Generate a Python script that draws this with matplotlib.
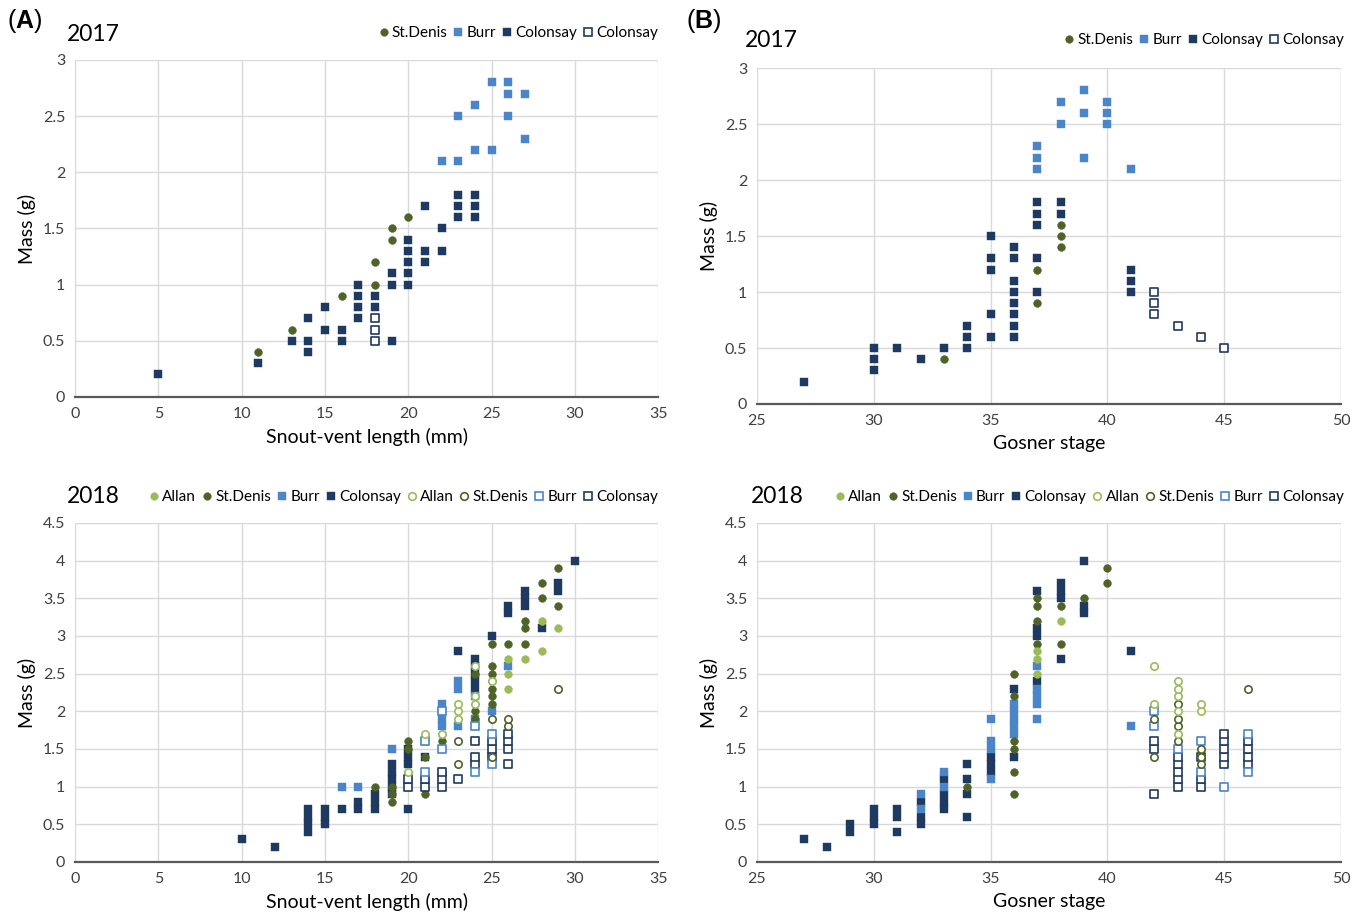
import matplotlib
matplotlib.use("Agg")
import matplotlib.pyplot as plt
from matplotlib.lines import Line2D
from matplotlib.ticker import FuncFormatter

plt.rcParams['font.family'] = ['Lato', 'DejaVu Sans']
plt.rcParams['mathtext.fontset'] = 'custom'
plt.rcParams['mathtext.bf'] = 'Liberation Sans:bold'
plt.rcParams['mathtext.rm'] = 'Liberation Sans'

# colours
c_allan = '#9BBB59'
c_stdenis = '#4F6228'
c_burr = '#4A85C9'
c_col = '#1F3A60'

# ---------------- (A) 2017 : mass vs snout-vent length ----------------
a17_stdenis_x = [11, 13, 16, 18, 18, 19, 19, 20]
a17_stdenis_y = [0.4, 0.6, 0.9, 1.0, 1.2, 1.4, 1.5, 1.6]
a17_burr_x = [22, 23, 23, 24, 24, 25, 25, 26, 26, 26, 27, 27]
a17_burr_y = [2.1, 2.1, 2.5, 2.2, 2.6, 2.2, 2.8, 2.5, 2.7, 2.8, 2.3, 2.7]
a17_col_x = [5, 11, 13, 14, 14, 14, 15, 15, 16, 16, 17, 17, 17, 17, 18, 18, 19, 19, 19,
             20, 20, 20, 20, 20, 21, 21, 21, 22, 22, 23, 23, 23, 24, 24, 24]
a17_col_y = [0.2, 0.3, 0.5, 0.4, 0.5, 0.7, 0.6, 0.8, 0.5, 0.6, 0.7, 0.8, 0.9, 1.0, 0.8, 0.9, 0.5, 1.0, 1.1,
             1.0, 1.1, 1.2, 1.3, 1.4, 1.2, 1.3, 1.7, 1.3, 1.5, 1.6, 1.7, 1.8, 1.6, 1.7, 1.8]
a17_col_o_x = [18, 18, 18]
a17_col_o_y = [0.5, 0.6, 0.7]

# ---------------- (B) 2017 : mass vs Gosner stage ----------------
b17_stdenis_x = [33, 37, 37, 38, 38, 38]
b17_stdenis_y = [0.4, 0.9, 1.2, 1.4, 1.5, 1.6]
b17_burr_x = [37, 37, 37, 38, 38, 39, 39, 39, 40, 40, 40, 41]
b17_burr_y = [2.1, 2.2, 2.3, 2.5, 2.7, 2.2, 2.6, 2.8, 2.5, 2.6, 2.7, 2.1]
b17_col_x = [27, 30, 30, 30, 31, 32, 33, 34, 34, 34, 35, 35, 35, 35, 35,
             36, 36, 36, 36, 36, 36, 36, 36, 37, 37, 37, 37, 37, 38, 38, 41, 41, 41]
b17_col_y = [0.2, 0.3, 0.4, 0.5, 0.5, 0.4, 0.5, 0.5, 0.6, 0.7, 0.6, 0.8, 1.2, 1.3, 1.5,
             0.6, 0.7, 0.8, 0.9, 1.0, 1.1, 1.3, 1.4, 1.0, 1.3, 1.6, 1.7, 1.8, 1.7, 1.8, 1.0, 1.1, 1.2]
b17_col_o_x = [42, 42, 42, 43, 44, 45]
b17_col_o_y = [0.8, 0.9, 1.0, 0.7, 0.6, 0.5]

# ---------------- (A) 2018 ----------------
a18_allan_x = [22, 26, 26, 26, 27, 28, 28, 29]
a18_allan_y = [1.7, 2.3, 2.5, 2.7, 2.7, 2.8, 3.2, 3.1]
a18_stdenis_x = [18, 19, 19, 19, 20, 20, 20, 21, 21, 22, 22, 24, 24, 24,
                 25, 25, 25, 25, 25, 25, 25, 26, 27, 27, 27, 28, 28, 29, 29]
a18_stdenis_y = [1.0, 0.8, 0.9, 1.0, 1.1, 1.5, 1.6, 0.9, 1.4, 1.2, 1.6, 1.9, 2.0, 2.5,
                 2.1, 2.2, 2.3, 2.4, 2.5, 2.6, 2.9, 2.9, 2.9, 3.1, 3.2, 3.5, 3.7, 3.4, 3.9]
a18_burr_x = [16, 17, 19, 22, 22, 22, 22, 23, 23, 23, 24, 24, 25, 26]
a18_burr_y = [1.0, 1.0, 1.5, 1.8, 1.9, 2.0, 2.1, 1.8, 2.3, 2.4, 1.9, 2.2, 2.0, 2.6]
a18_col_x = [10, 12, 14, 14, 14, 14, 15, 15, 15, 16, 17, 17, 18, 18, 18, 19, 19, 19, 19, 19,
             20, 20, 20, 20, 21, 21, 22, 23, 24, 24, 24, 24, 24, 25, 26, 26, 27, 27, 27, 28, 29, 29, 30]
a18_col_y = [0.3, 0.2, 0.4, 0.5, 0.6, 0.7, 0.5, 0.6, 0.7, 0.7, 0.7, 0.8, 0.7, 0.8, 0.9, 0.9, 1.0, 1.1, 1.2, 1.3,
             0.7, 1.3, 1.4, 1.5, 1.4, 1.6, 1.2, 2.8, 2.3, 2.4, 2.5, 2.6, 2.7, 3.0, 3.3, 3.4, 3.4, 3.5, 3.6, 3.1, 3.6, 3.7, 4.0]
a18_allan_o_x = [20, 21, 22, 23, 23, 23, 24, 24, 24, 25]
a18_allan_o_y = [1.2, 1.7, 1.7, 1.9, 2.0, 2.1, 2.1, 2.2, 2.6, 2.4]
a18_stdenis_o_x = [23, 23, 25, 25, 26, 26, 29]
a18_stdenis_o_y = [1.3, 1.6, 1.4, 1.9, 1.8, 1.9, 2.3]
a18_burr_o_x = [21, 21, 22, 22, 24, 24, 25, 25]
a18_burr_o_y = [1.2, 1.6, 1.5, 2.0, 1.2, 1.8, 1.3, 1.7]
a18_col_o_x = [20, 20, 21, 21, 22, 22, 22, 23, 24, 24, 24, 25, 25, 25, 26, 26, 26, 26]
a18_col_o_y = [1.0, 1.1, 1.0, 1.1, 1.0, 1.1, 1.2, 1.1, 1.3, 1.4, 1.6, 1.4, 1.5, 1.6, 1.3, 1.5, 1.6, 1.7]

# ---------------- (B) 2018 ----------------
b18_allan_x = [37, 37, 37, 38]
b18_allan_y = [2.5, 2.7, 2.8, 3.2]
b18_stdenis_x = [34, 36, 36, 36, 36, 36, 36, 37, 37, 37, 37, 38, 38, 39, 40, 40]
b18_stdenis_y = [1.0, 0.9, 1.2, 1.5, 1.6, 2.2, 2.5, 2.9, 3.2, 3.4, 3.5, 2.9, 3.4, 3.5, 3.7, 3.9]
b18_burr_x = [32, 32, 33, 33, 35, 35, 35, 35, 36, 36, 36, 36, 36, 37, 37, 37, 37, 37, 41]
b18_burr_y = [0.7, 0.9, 1.0, 1.2, 1.1, 1.5, 1.6, 1.9, 1.7, 1.8, 1.9, 2.0, 2.1, 1.9, 2.1, 2.2, 2.3, 2.6, 1.8]
b18_col_x = [27, 28, 29, 29, 30, 30, 30, 31, 31, 31, 32, 32, 32, 33, 33, 33, 33, 34, 34, 34, 34,
             35, 35, 35, 36, 36, 37, 37, 37, 37, 38, 38, 38, 38, 39, 39, 39, 41]
b18_col_y = [0.3, 0.2, 0.4, 0.5, 0.5, 0.6, 0.7, 0.4, 0.6, 0.7, 0.5, 0.6, 0.8, 0.7, 0.8, 0.9, 1.1, 0.6, 0.9, 1.1, 1.3,
             1.2, 1.3, 1.4, 1.4, 2.3, 2.4, 3.0, 3.1, 3.6, 2.7, 3.5, 3.6, 3.7, 3.3, 3.4, 4.0, 2.8]
b18_allan_o_x = [42, 42, 43, 43, 43, 43, 43, 44, 44]
b18_allan_o_y = [2.1, 2.6, 1.7, 2.0, 2.2, 2.3, 2.4, 2.0, 2.1]
b18_stdenis_o_x = [42, 42, 43, 43, 43, 43, 44, 44, 44, 46]
b18_stdenis_o_y = [1.4, 1.9, 1.6, 1.8, 1.9, 2.1, 1.3, 1.4, 1.5, 2.3]
b18_burr_o_x = [42, 42, 43, 44, 44, 45, 46, 46]
b18_burr_o_y = [1.8, 2.0, 1.5, 1.2, 1.6, 1.0, 1.2, 1.7]
b18_col_o_x = [42, 42, 42, 43, 43, 43, 43, 43, 44, 44, 44, 45, 45, 45, 45, 45, 46, 46, 46, 46]
b18_col_o_y = [0.9, 1.5, 1.6, 1.0, 1.1, 1.2, 1.3, 1.4, 1.0, 1.1, 1.4, 1.3, 1.4, 1.5, 1.6, 1.7, 1.3, 1.4, 1.5, 1.6]

SQ = 40
CI = 32


def filled(ax, x, y, color, marker):
    ax.scatter(x, y, s=SQ if marker == 's' else CI, marker=marker, color=color,
               edgecolors=color, linewidths=0.3, zorder=3)


def hollow(ax, x, y, color, marker):
    ax.scatter(x, y, s=32 if marker == 's' else 28, marker=marker, facecolors='white',
               edgecolors=color, linewidths=1.2, zorder=4)


def style(ax, xlim, xticks, ymax, xlabel):
    ax.set_xlim(*xlim)
    ax.set_xticks(xticks)
    ax.set_ylim(0, ymax)
    ax.set_yticks([i * 0.5 for i in range(int(ymax / 0.5) + 1)])
    ax.yaxis.set_major_formatter(FuncFormatter(lambda v, p: f'{v:g}'))
    for s in ['top', 'right', 'left']:
        ax.spines[s].set_visible(False)
    ax.spines['bottom'].set_color('#595959')
    ax.spines['bottom'].set_linewidth(1.6)
    ax.grid(True, color='#d9d9d9', linewidth=1.0)
    ax.set_axisbelow(True)
    ax.tick_params(length=0, labelsize=11.5, pad=7, colors='#404040')
    ax.set_xlabel(xlabel, fontsize=14, labelpad=5)
    ax.set_ylabel('Mass (g)', fontsize=14, labelpad=5)


def legend(ax, entries, x, y):
    handles = []
    labels = []
    for lab, col, mk, fill in entries:
        handles.append(Line2D([], [], linestyle='none', marker=mk, markersize=6 if mk == 's' else 5.5,
                              markerfacecolor=col if fill else 'white', markeredgecolor=col,
                              markeredgewidth=0.3 if fill else 1.2))
        labels.append(lab)
    ax.legend(handles, labels, loc='center right', bbox_to_anchor=(x, y), ncol=len(entries),
              frameon=False, fontsize=11, handlelength=0.6, handletextpad=0.25,
              columnspacing=0.4, borderaxespad=0, borderpad=0)


fig = plt.figure(figsize=(13.63, 9.23), dpi=100)
ax1 = fig.add_axes([0.055, 0.570, 0.428, 0.365])
ax2 = fig.add_axes([0.5554, 0.5623, 0.4285, 0.364])
ax3 = fig.add_axes([0.055, 0.0661, 0.428, 0.3673])
ax4 = fig.add_axes([0.5554, 0.0661, 0.4285, 0.3673])

entries17 = [('St.Denis', c_stdenis, 'o', True), ('Burr', c_burr, 's', True),
             ('Colonsay', c_col, 's', True), ('Colonsay', c_col, 's', False)]
entries18 = [('Allan', c_allan, 'o', True), ('St.Denis', c_stdenis, 'o', True),
             ('Burr', c_burr, 's', True), ('Colonsay', c_col, 's', True),
             ('Allan', c_allan, 'o', False), ('St.Denis', c_stdenis, 'o', False),
             ('Burr', c_burr, 's', False), ('Colonsay', c_col, 's', False)]

# (A) 2017
filled(ax1, a17_col_x, a17_col_y, c_col, 's')
filled(ax1, a17_burr_x, a17_burr_y, c_burr, 's')
filled(ax1, a17_stdenis_x, a17_stdenis_y, c_stdenis, 'o')
hollow(ax1, a17_col_o_x, a17_col_o_y, c_col, 's')
style(ax1, (0, 35), range(0, 36, 5), 3, 'Snout-vent length (mm)')
legend(ax1, entries17, 1.0, 1.08)
ax1.text(-0.014, 1.075, '2017', transform=ax1.transAxes, fontsize=16.5, va='center', ha='left')

# (B) 2017
filled(ax2, b17_col_x, b17_col_y, c_col, 's')
filled(ax2, b17_burr_x, b17_burr_y, c_burr, 's')
filled(ax2, b17_stdenis_x, b17_stdenis_y, c_stdenis, 'o')
hollow(ax2, b17_col_o_x, b17_col_o_y, c_col, 's')
style(ax2, (25, 50), range(25, 51, 5), 3, 'Gosner stage')
legend(ax2, entries17, 1.005, 1.083)
ax2.text(-0.02, 1.083, '2017', transform=ax2.transAxes, fontsize=16.5, va='center', ha='left')

# (A) 2018
filled(ax3, a18_col_x, a18_col_y, c_col, 's')
filled(ax3, a18_burr_x, a18_burr_y, c_burr, 's')
filled(ax3, a18_stdenis_x, a18_stdenis_y, c_stdenis, 'o')
filled(ax3, a18_allan_x, a18_allan_y, c_allan, 'o')
hollow(ax3, a18_col_o_x, a18_col_o_y, c_col, 's')
hollow(ax3, a18_burr_o_x, a18_burr_o_y, c_burr, 's')
hollow(ax3, a18_stdenis_o_x, a18_stdenis_o_y, c_stdenis, 'o')
hollow(ax3, a18_allan_o_x, a18_allan_o_y, c_allan, 'o')
style(ax3, (0, 35), range(0, 36, 5), 4.5, 'Snout-vent length (mm)')
legend(ax3, entries18, 1.0, 1.077)
ax3.text(-0.014, 1.077, '2018', transform=ax3.transAxes, fontsize=16.5, va='center', ha='left')

# (B) 2018
filled(ax4, b18_col_x, b18_col_y, c_col, 's')
filled(ax4, b18_burr_x, b18_burr_y, c_burr, 's')
filled(ax4, b18_stdenis_x, b18_stdenis_y, c_stdenis, 'o')
filled(ax4, b18_allan_x, b18_allan_y, c_allan, 'o')
hollow(ax4, b18_col_o_x, b18_col_o_y, c_col, 's')
hollow(ax4, b18_burr_o_x, b18_burr_o_y, c_burr, 's')
hollow(ax4, b18_stdenis_o_x, b18_stdenis_o_y, c_stdenis, 'o')
hollow(ax4, b18_allan_o_x, b18_allan_o_y, c_allan, 'o')
style(ax4, (25, 50), range(25, 51, 5), 4.5, 'Gosner stage')
legend(ax4, entries18, 1.005, 1.077)
ax4.text(-0.01, 1.077, '2018', transform=ax4.transAxes, fontsize=16.5, va='center', ha='left')

fig.text(0.005, 0.977, r'($\mathbf{A}$)', fontsize=18, va='center', ha='left',
         family='Liberation Sans')
fig.text(0.503, 0.977, r'($\mathbf{B}$)', fontsize=18, va='center', ha='left',
         family='Liberation Sans')

fig.savefig('out.png', dpi=100)
